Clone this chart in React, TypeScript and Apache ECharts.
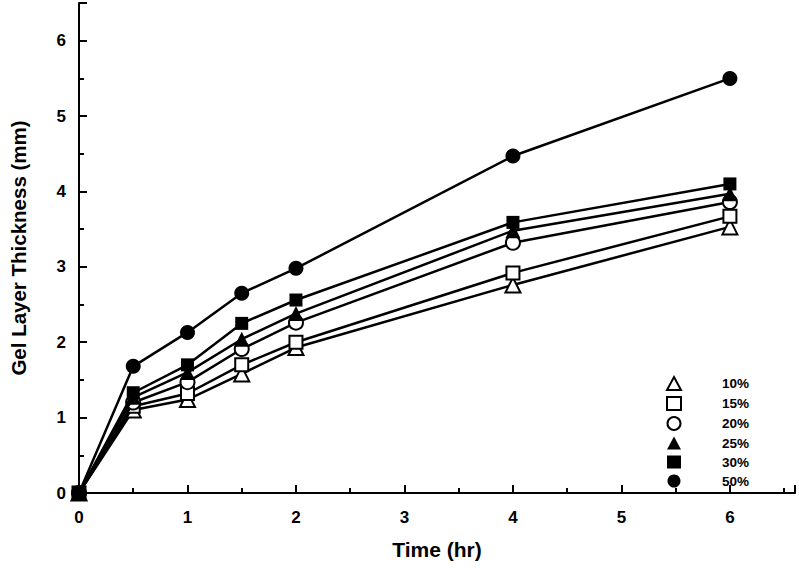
import React, { useEffect, useRef } from "react";
import * as echarts from "echarts";

const times = [0, 0.5, 1, 1.5, 2, 4, 6];
const seriesNames = ["10%", "15%", "20%", "25%", "30%", "50%"];
const v10 = [0, 1.1, 1.24, 1.58, 1.93, 2.76, 3.53];
const v15 = [0, 1.15, 1.32, 1.7, 2.0, 2.92, 3.67];
const v20 = [0, 1.2, 1.47, 1.91, 2.26, 3.32, 3.86];
const v25 = [0, 1.27, 1.6, 2.04, 2.38, 3.48, 3.97];
const v30 = [0, 1.33, 1.7, 2.25, 2.56, 3.59, 4.1];
const v50 = [0, 1.68, 2.13, 2.65, 2.98, 4.47, 5.5];
const allValues = [v10, v15, v20, v25, v30, v50];
const symbols = ["triangle", "rect", "circle", "triangle", "rect", "circle"];
const filled = [false, false, false, true, true, true];
const sizes = [15, 13, 14, 15, 13, 15];

export default function App() {
  const ref = useRef<HTMLDivElement>(null);
  useEffect(() => {
    if (!ref.current) return;
    const chart = echarts.init(ref.current, null, { renderer: "svg" });
    const font = "'Liberation Sans', Arial, sans-serif";
    const series = seriesNames.map((name, i) => ({
      name,
      type: "line",
      data: times.map((t, j) => [t, allValues[i][j]]),
      symbol: symbols[i],
      symbolSize: sizes[i],
      showAllSymbol: true,
      lineStyle: { color: "#000", width: 2.5 },
      itemStyle: {
        color: filled[i] ? "#000" : "#fff",
        borderColor: "#000",
        borderWidth: filled[i] ? 0 : 2,
      },
      z: 2 + i,
    }));
    const axisCommon = {
      axisLine: { show: true, onZero: false, lineStyle: { color: "#000", width: 2 } },
      axisTick: { show: true, inside: true, length: 8, lineStyle: { color: "#000", width: 2 } },
      minorTick: { show: true, splitNumber: 2, length: 5, lineStyle: { color: "#000", width: 2 } },
      splitLine: { show: false },
    };
    chart.setOption({
      animation: false,
      backgroundColor: "#fff",
      grid: { left: 69, top: 3, width: 726, height: 490, containLabel: false },
      xAxis: {
        type: "value",
        min: 0,
        max: 6.6,
        interval: 1,
        name: "Time (hr)",
        nameLocation: "middle",
        nameGap: 46,
        nameTextStyle: { fontFamily: font, fontWeight: "bold", fontSize: 21, color: "#000" },
        ...axisCommon,
        axisLabel: {
          fontFamily: font,
          fontWeight: "bold",
          fontSize: 17,
          color: "#000",
          margin: 16,
          formatter: (v: number) => (v > 6 ? "" : String(v)),
        },
      },
      yAxis: {
        type: "value",
        min: 0,
        max: 6.5,
        interval: 1,
        name: "Gel Layer Thickness (mm)",
        nameLocation: "middle",
        nameGap: 50,
        nameTextStyle: { fontFamily: font, fontWeight: "bold", fontSize: 20.5, color: "#000" },
        ...axisCommon,
        axisLabel: {
          fontFamily: font,
          fontWeight: "bold",
          fontSize: 17,
          color: "#000",
          margin: 13,
          formatter: (v: number) => (v > 6 ? "" : String(v)),
        },
      },
      legend: {
        orient: "vertical",
        left: 661,
        top: 371,
        itemWidth: 14,
        itemHeight: 13,
        itemGap: 5,
        data: seriesNames.map((n, i) => ({ name: n, icon: symbols[i] })),
        textStyle: {
          fontFamily: font,
          fontWeight: "bold",
          fontSize: 13.5,
          lineHeight: 13,
          color: "#000",
          padding: [0, 0, 0, 36],
        },
        selectedMode: false,
      },
      series,
    });
    return () => chart.dispose();
  }, []);
  return (
    <div
      ref={ref}
      style={{ position: "fixed", left: 0, top: 0, width: 799, height: 568, background: "#fff" }}
    />
  );
}
